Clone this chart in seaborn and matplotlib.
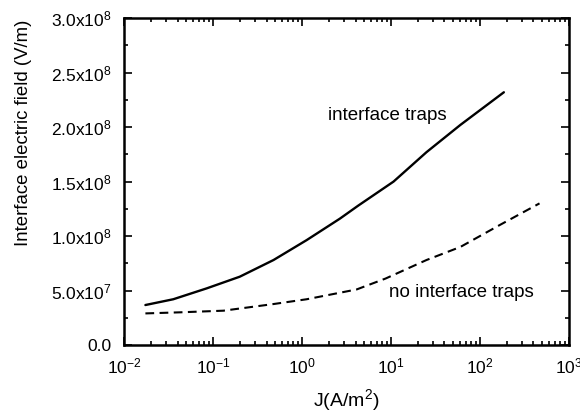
import numpy as np
import pandas as pd
import matplotlib
matplotlib.use('Agg')
import matplotlib.pyplot as plt
import matplotlib.ticker as mticker
import seaborn as sns

# values (J in A/m^2, field in V/m)
j_traps = [0.0174, 0.0358, 0.0851, 0.2, 0.479, 1.13, 2.67, 4.3, 10.7, 25.1, 60.3, 186]
e_traps = [0.367e8, 0.42e8, 0.52e8, 0.627e8, 0.78e8, 0.963e8, 1.16e8, 1.28e8,
           1.50e8, 1.77e8, 2.02e8, 2.32e8]

j_notraps = [0.0174, 0.0427, 0.131, 0.479, 1.13, 4.12, 8.7, 25.1, 60.3, 166, 468]
e_notraps = [0.29e8, 0.30e8, 0.315e8, 0.376e8, 0.42e8, 0.51e8, 0.61e8, 0.78e8,
             0.90e8, 1.10e8, 1.30e8]

sns.set_style('ticks')
plt.rcParams['font.family'] = ['Liberation Sans', 'DejaVu Sans']
plt.rcParams['mathtext.default'] = 'regular'
for k in ['text.color', 'axes.labelcolor', 'xtick.color', 'ytick.color', 'axes.edgecolor']:
    plt.rcParams[k] = 'black'

df_traps = pd.DataFrame({'J': j_traps, 'E': e_traps})
df_notraps = pd.DataFrame({'J': j_notraps, 'E': e_notraps})

fig = plt.figure(figsize=(5.8, 4.19), dpi=100)
ax = fig.add_axes([0.2138, 0.1766, 0.767, 0.78])

sns.lineplot(data=df_traps, x='J', y='E', ax=ax, color='black', linewidth=1.7)
sns.lineplot(data=df_notraps, x='J', y='E', ax=ax, color='black', linewidth=1.5,
             linestyle=(0, (4.2, 2.6)))

ax.set_xscale('log')
ax.set_xlim(1e-2, 1e3)
ax.set_ylim(0, 3e8)


def sci_fmt(v, pos):
    if v <= 0:
        return '0.0' if abs(v) < 1 else ''
    exp = int(np.floor(np.log10(v)))
    mant = v / 10 ** exp
    return '%.1fx10$^{%d}$' % (mant, exp)


ax.yaxis.set_major_locator(mticker.MultipleLocator(0.5e8))
ax.yaxis.set_minor_locator(mticker.MultipleLocator(0.25e8))
ax.yaxis.set_major_formatter(mticker.FuncFormatter(sci_fmt))
ax.xaxis.set_major_locator(mticker.LogLocator(base=10, numticks=10))
ax.xaxis.set_minor_locator(mticker.LogLocator(base=10, subs=np.arange(2, 10), numticks=20))
ax.xaxis.set_minor_formatter(mticker.NullFormatter())

ax.tick_params(which='both', direction='in', top=True, right=True, labelsize=12.5,
               width=1.2, colors='black')
ax.tick_params(which='major', length=6)
ax.tick_params(which='minor', length=3)
ax.tick_params(axis='x', which='major', pad=8)
ax.tick_params(axis='y', which='major', pad=9)
for s in ax.spines.values():
    s.set_linewidth(1.8)
    s.set_color('black')

ax.set_xlabel('J(A/m$^2$)', fontsize=14, labelpad=8)
ax.set_ylabel('Interface electric field (V/m)', fontsize=13.4)
ax.yaxis.set_label_coords(-0.207, 0.648)

ax.text(1.95, 2.11e8, 'interface traps', fontsize=13.5, va='center')
ax.text(9.5, 0.48e8, 'no interface traps', fontsize=13.5, va='center')

fig.savefig('out.png', dpi=100)
